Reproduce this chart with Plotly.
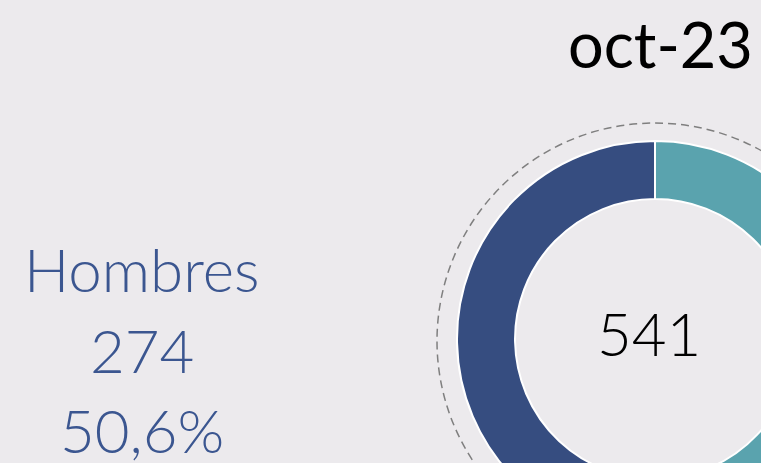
import plotly.graph_objects as go

# Data
labels = ["Mujeres", "Hombres"]
values = [267, 274]
colors = ["#5AA3AE", "#364D80"]
total = sum(values)
period = "oct-23"
hombres_label = "Hombres"
hombres_value = 274
hombres_pct = "50,6%"

W, H = 1000, 700
BG = "#ECEAED"

def px(x):
    return x / W

def py(y):
    return 1 - y / H

cx, cy, r_out = 655, 339, 198
dcx, dcy, r_dash = 655, 341, 218

fig = go.Figure(go.Pie(
    labels=labels, values=values, sort=False, direction="clockwise",
    hole=0.707, textinfo="none", hoverinfo="label+value+percent",
    marker=dict(colors=colors, line=dict(color="white", width=2)),
    domain=dict(x=[px(cx - r_out), px(cx + r_out)], y=[py(cy + r_out), py(cy - r_out)]),
    showlegend=False,
))

fig.add_shape(type="circle", xref="paper", yref="paper",
              x0=px(dcx - r_dash), x1=px(dcx + r_dash), y0=py(dcy + r_dash), y1=py(dcy - r_dash),
              line=dict(color="#7F7F7F", width=1.5, dash="8px,5px"), layer="below")

fig.add_annotation(x=px(649), y=py(333), xref="paper", yref="paper", text=str(total),
                   showarrow=False, font=dict(family="Lato", size=60, color="black", weight=300),
                   xanchor="center", yanchor="middle")
fig.add_annotation(x=px(660), y=py(44), xref="paper", yref="paper", text=period,
                   showarrow=False, font=dict(family="Lato", size=63, color="black"),
                   xanchor="center", yanchor="middle")
blue = "#3B5690"
for txt, yy in [(hombres_label, 269), (str(hombres_value), 350), (hombres_pct, 430)]:
    fig.add_annotation(x=px(142), y=py(yy), xref="paper", yref="paper", text=txt,
                       showarrow=False, font=dict(family="Lato", size=60, color=blue, weight=300),
                       xanchor="center", yanchor="middle")

fig.update_layout(width=W, height=H, margin=dict(l=0, r=0, t=0, b=0),
                  paper_bgcolor=BG, plot_bgcolor=BG)
fig.write_html(
    "out.html",
    post_script="document.body.style.margin='0';document.body.style.overflow='hidden';"
                "document.body.style.background='#ECEAED';",
)
